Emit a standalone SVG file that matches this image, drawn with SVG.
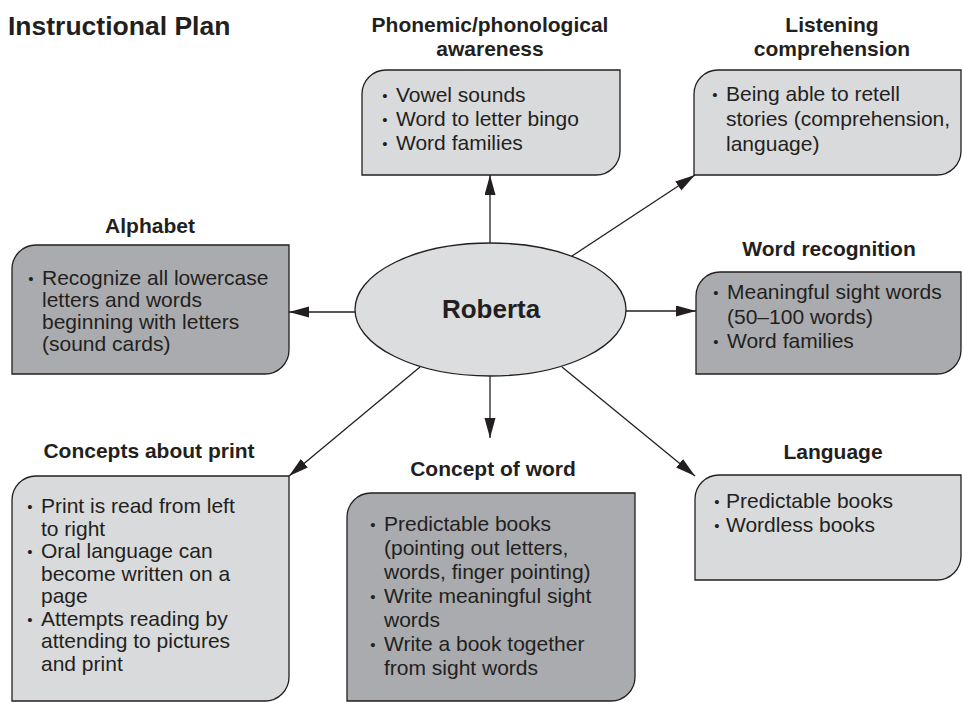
<svg xmlns="http://www.w3.org/2000/svg" width="963" height="702" viewBox="0 0 963 702">
<style>
text{font-family:"Liberation Sans",Arial,Helvetica,sans-serif;fill:#231f20}
.h{font-size:21px;font-weight:bold;text-anchor:middle}
.t{font-size:21px}
.d{font-size:15px;text-anchor:middle}
.box{stroke:#231f20;stroke-width:1.3}
.lt{fill:#d9dadb}
.dk{fill:#a9abae}
.c line{stroke:#231f20;stroke-width:1.3;marker-end:url(#ah)}
</style>
<defs>
<marker id="ah" markerUnits="userSpaceOnUse" markerWidth="21" markerHeight="12" refX="20" refY="5.5" orient="auto">
<path d="M0,0 L20,5.5 L0,11 Z" fill="#231f20"/>
</marker>
</defs>
<rect width="963" height="702" fill="#ffffff"/>
<text x="8" y="35" style="font-size:26.5px;font-weight:bold">Instructional Plan</text>

<g class="c" id="connectors">
<line x1="490" y1="243" x2="490" y2="175"/>
<line x1="572" y1="256" x2="695" y2="175"/>
<line x1="355" y1="312" x2="289" y2="312"/>
<line x1="626" y1="311" x2="696" y2="311"/>
<line x1="490" y1="376" x2="490" y2="438"/>
<line x1="420" y1="367" x2="289" y2="476"/>
<line x1="562" y1="367" x2="695" y2="476"/>
</g>

<g id="roberta">
<ellipse cx="490.5" cy="309.5" rx="135.5" ry="66.5" fill="#dcdddf" stroke="#231f20" stroke-width="1.3"/>
<text x="491" y="318" style="font-size:26px;font-weight:bold;text-anchor:middle">Roberta</text>
</g>

<g id="phonemic">
<text class="h" x="490" y="32">Phonemic/phonological</text>
<text class="h" x="490" y="56">awareness</text>
<path class="box lt" d="M362,175 L362,94 A24,24 0 0 1 386,70 L620,70 L620,151 A24,24 0 0 1 596,175 Z"/>
<text class="d" x="385" y="101">•</text><text class="t" x="396" y="102">Vowel sounds</text>
<text class="d" x="385" y="125">•</text><text class="t" x="396" y="126">Word to letter bingo</text>
<text class="d" x="385" y="149">•</text><text class="t" x="396" y="150">Word families</text>
</g>

<g id="listening">
<text class="h" x="832" y="32">Listening</text>
<text class="h" x="832" y="56">comprehension</text>
<path class="box lt" d="M694,175 L694,94 A24,24 0 0 1 718,70 L961,70 L961,151 A24,24 0 0 1 937,175 Z"/>
<text class="d" x="715" y="100">•</text><text class="t" x="726" y="101">Being able to retell</text>
<text class="t" x="726" y="126">stories (comprehension,</text>
<text class="t" x="726" y="151">language)</text>
</g>

<g id="alphabet">
<text class="h" x="150" y="233">Alphabet</text>
<path class="box dk" d="M12,374 L12,269 A24,24 0 0 1 36,245 L289,245 L289,350 A24,24 0 0 1 265,374 Z"/>
<text class="d" x="31" y="284">•</text><text class="t" x="42" y="285">Recognize all lowercase</text>
<text class="t" x="42" y="307">letters and words</text>
<text class="t" x="42" y="329">beginning with letters</text>
<text class="t" x="42" y="351">(sound cards)</text>
</g>

<g id="word-recognition">
<text class="h" x="829" y="256">Word recognition</text>
<path class="box dk" d="M696,374 L696,296 A24,24 0 0 1 720,272 L961,272 L961,350 A24,24 0 0 1 937,374 Z"/>
<text class="d" x="716" y="298">•</text><text class="t" x="727" y="299">Meaningful sight words</text>
<text class="t" x="727" y="324">(50–100 words)</text>
<text class="d" x="716" y="347">•</text><text class="t" x="727" y="348">Word families</text>
</g>

<g id="concepts-about-print">
<text class="h" x="149" y="458">Concepts about print</text>
<path class="box lt" d="M12,701 L12,500 A24,24 0 0 1 36,476 L289,476 L289,677 A24,24 0 0 1 265,701 Z"/>
<text class="d" x="30" y="512">•</text><text class="t" x="41" y="513">Print is read from left</text>
<text class="t" x="41" y="535.5">to right</text>
<text class="d" x="30" y="557">•</text><text class="t" x="41" y="558">Oral language can</text>
<text class="t" x="41" y="580.5">become written on a</text>
<text class="t" x="41" y="603">page</text>
<text class="d" x="30" y="624.5">•</text><text class="t" x="41" y="625.5">Attempts reading by</text>
<text class="t" x="41" y="648">attending to pictures</text>
<text class="t" x="41" y="670.5">and print</text>
</g>

<g id="concept-of-word">
<text class="h" x="493" y="476">Concept of word</text>
<path class="box dk" d="M347,701 L347,517 A24,24 0 0 1 371,493 L635,493 L635,677 A24,24 0 0 1 611,701 Z"/>
<text class="d" x="373" y="530">•</text><text class="t" x="384" y="531">Predictable books</text>
<text class="t" x="384" y="555">(pointing out letters,</text>
<text class="t" x="384" y="579">words, finger pointing)</text>
<text class="d" x="373" y="602">•</text><text class="t" x="384" y="603">Write meaningful sight</text>
<text class="t" x="384" y="627">words</text>
<text class="d" x="373" y="650">•</text><text class="t" x="384" y="651">Write a book together</text>
<text class="t" x="384" y="675">from sight words</text>
</g>

<g id="language">
<text class="h" x="833" y="459">Language</text>
<path class="box lt" d="M695,580 L695,499 A24,24 0 0 1 719,475 L961,475 L961,556 A24,24 0 0 1 937,580 Z"/>
<text class="d" x="717" y="507">•</text><text class="t" x="726" y="508">Predictable books</text>
<text class="d" x="717" y="531">•</text><text class="t" x="726" y="532">Wordless books</text>
</g>
</svg>
